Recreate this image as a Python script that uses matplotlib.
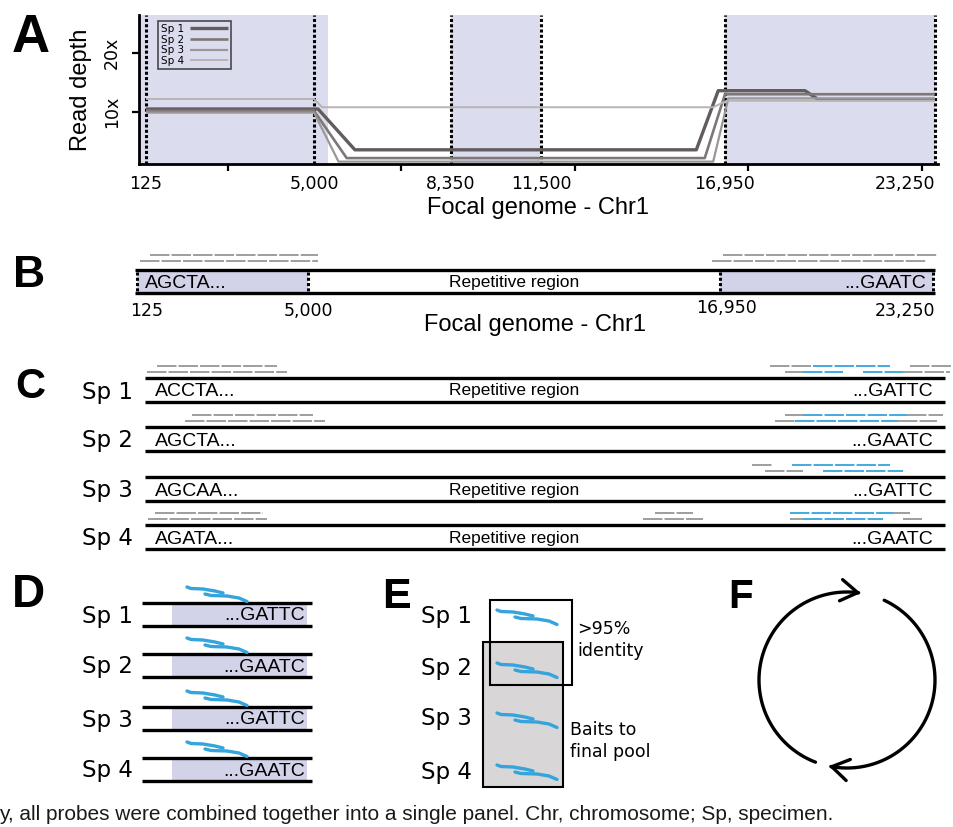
import numpy as np
import matplotlib
matplotlib.use("Agg")
import matplotlib.pyplot as plt
from matplotlib.patches import Rectangle, FancyArrowPatch
from matplotlib.path import Path

plt.rcParams.update({
    "font.family": "DejaVu Sans",
    "lines.scale_dashes": False,
    "lines.solid_capstyle": "butt",
    "lines.dash_capstyle": "butt",
})

ARIAL = "Liberation Sans"
SHADE = "#dcdcef"
SHADE_DARK = "#d2d2e9"
READ_GRAY = "#8e8e8e"
BAIT_BLUE = "#35a4dc"

# --- panel A: read depth along the focal chromosome ---
SPECIMENS = ["Sp 1", "Sp 2", "Sp 3", "Sp 4"]
DEPTH_POS = [
    [125, 5100, 6000, 16100, 16750, 19350, 19750, 23250],
    [125, 5000, 5800, 16350, 16950, 23250],
    [125, 5000, 5600, 16600, 17050, 23250],
    [125, 5000, 5200, 16600, 17000, 23250],
]
DEPTH_VAL = [
    [10.5, 10.5, 3.6, 3.6, 13.6, 13.6, 12.1, 12.1],
    [10.2, 10.2, 2.2, 2.2, 13.0, 13.0],
    [9.9, 9.9, 1.6, 1.6, 12.3, 12.3],
    [12.2, 12.2, 10.8, 10.8, 11.9, 11.9],
]
LINE_COLORS = ["#625c5c", "#7d7777", "#9c9696", "#b9b3b1"]
LINE_WIDTHS = [2.4, 1.9, 1.6, 1.4]

GENOME_MARKS = [125, 5000, 8350, 11500, 16950, 23250]
MARK_LABELS = ["125", "5,000", "8,350", "11,500", "16,950", "23,250"]
SHADED_SPANS = [(-78, 5350), (8350, 11450), (16950, 23250)]
DEPTH_TICKS = [10, 20]
DEPTH_LABELS = ["10x", "20x"]

# schematic (non-linear) placement of genome positions in panel A
A_BP = [-78, 125, 5000, 8350, 11500, 16950, 23250, 23340]
A_PX = [139, 146, 314, 451, 541, 725, 935, 938]

# --- panel B: focal genome with flanking unique regions ---
B_BP = [-200, 125, 5000, 16950, 23250, 23500]
B_PX = [126, 137, 308, 720, 933, 941]
B_MARKS = [125, 5000, 16950, 23250]
B_SPANS = [(125, 5000), (16950, 23250)]
B_READS = [(0, 500, 5290), (1, 210, 5290), (0, 17040, 23370), (1, 16720, 23070)]

# --- panel C: reads mapped onto each specimen (row, start, end, bait) ---
LEFT_SEQ = ["ACCTA...", "AGCTA...", "AGCAA...", "AGATA..."]
RIGHT_SEQ = ["...GATTC", "...GAATC", "...GATTC", "...GAATC"]
SHOW_REPEAT = [True, False, True, True]
C_READS = [
    [(0, 157, 277, 0), (1, 147, 287, 0), (0, 770, 812, 0), (0, 813, 890, 1),
     (0, 910, 952, 0), (1, 785, 803, 0), (1, 803, 843, 1), (1, 863, 903, 1),
     (1, 903, 950, 0)],
    [(0, 192, 313, 0), (1, 185, 325, 0), (0, 785, 803, 0), (0, 803, 907, 1),
     (0, 907, 943, 0), (1, 775, 795, 0), (1, 795, 898, 1), (1, 898, 937, 0)],
    [(0, 752, 772, 0), (0, 792, 890, 1), (1, 765, 803, 0), (1, 823, 903, 1)],
    [(0, 155, 263, 0), (1, 148, 267, 0), (0, 655, 693, 0), (1, 643, 703, 0),
     (0, 790, 893, 1), (0, 893, 910, 0), (1, 790, 803, 0), (1, 803, 883, 1),
     (1, 903, 922, 0)],
]

# bait glyph: two overlapping probe strokes
BAIT_STROKES = [
    ([0, 4, 16, 28, 36], [0, 1.5, 2, 4, 6]),
    ([18, 24, 40, 52, 60], [7, 8.5, 9, 11, 14.5]),
]

fig = plt.figure(figsize=(9.54, 8.27), dpi=100)
canvas = fig.add_axes([0, 0, 1, 1])
canvas.set_xlim(0, 954)
canvas.set_ylim(827, 0)
canvas.axis("off")


def panel_letter(x, y, s, size):
    canvas.text(x, y, s, fontfamily=ARIAL, fontweight="bold", fontsize=size,
                ha="left", va="baseline")


# ---------------- A ----------------
def to_px(x):
    return np.interp(x, A_BP, A_PX)


def from_px(p):
    return np.interp(p, A_PX, A_BP)


ax = fig.add_axes([139 / 954, 1 - 164 / 827, 799 / 954, 149 / 827])
ax.set_xscale("function", functions=(to_px, from_px))
ax.set_xlim(A_BP[0], A_BP[-1])
ax.set_ylim(1.2, 26.4)
ax.patch.set_alpha(0)
for x0, x1 in SHADED_SPANS:
    ax.axvspan(x0, x1, color=SHADE, lw=0, zorder=0)
for g in GENOME_MARKS:
    ax.axvline(g, color="black", ls=(0, (2.2, 1.6)), lw=2.2, zorder=3)
for name, pos, val, c, lw in zip(SPECIMENS, DEPTH_POS, DEPTH_VAL,
                                 LINE_COLORS, LINE_WIDTHS):
    ax.plot(pos, val, color=c, lw=lw, label=name, zorder=4)

leg = ax.legend(loc="upper left", bbox_to_anchor=(19 / 799, 1 - 6 / 149),
                borderaxespad=0, fontsize=7.5, markerfirst=False,
                handlelength=3.6, handletextpad=0.6, labelspacing=0.05,
                borderpad=0.3, fancybox=False, facecolor="none",
                edgecolor="#222222")
leg.get_frame().set_linewidth(1.2)

for side in ("top", "right"):
    ax.spines[side].set_visible(False)
for side in ("left", "bottom"):
    ax.spines[side].set_linewidth(2.0)
ax.set_xticks(from_px(np.linspace(228, 922, 5)))
ax.set_xticklabels([])
ax.set_xticks(GENOME_MARKS, minor=True)
ax.set_xticklabels(MARK_LABELS, minor=True)
ax.get_xticklabels(minor=True)[-1].set_ha("right")
ax.tick_params(axis="x", which="major", length=5, width=1.6)
ax.tick_params(axis="x", which="minor", length=0, pad=8, labelsize=12.5)
ax.set_yticks(DEPTH_TICKS)
ax.set_yticklabels(DEPTH_LABELS, rotation=90, va="center")
ax.tick_params(axis="y", length=5, width=1.6, pad=8, labelsize=12.5)
ax.set_xlabel("Focal genome - Chr1", fontfamily=ARIAL, fontsize=17, labelpad=3)
ax.set_ylabel("Read depth", fontfamily=ARIAL, fontsize=17, labelpad=8)
panel_letter(12, 52, "A", 38)


# ---------------- B ----------------
def bx(g):
    return np.interp(g, B_BP, B_PX)


B_TOP, B_BOT = 270, 293
B_MID = (B_TOP + B_BOT) / 2 + 1.5
for row, g0, g1 in B_READS:
    y = 255 + 5.5 * row
    canvas.plot([bx(g0), bx(g1)], [y, y], color=READ_GRAY, lw=1.2,
                ls=(0, (14, 1.5)))
for g0, g1 in B_SPANS:
    canvas.add_patch(Rectangle((bx(g0), B_TOP + 1), bx(g1) - bx(g0),
                               B_BOT - B_TOP - 2, color=SHADE_DARK, lw=0))
canvas.hlines([B_TOP, B_BOT], 135, 935, color="black", lw=2.4)
canvas.vlines([bx(g) for g in B_MARKS], B_TOP + 2, B_BOT - 2, color="black",
              lw=2.2, ls=(0, (2.2, 1.6)))
canvas.text(145, B_MID, "AGCTA...", fontfamily=ARIAL, fontsize=14,
            ha="left", va="center")
canvas.text(514, B_MID, "Repetitive region", fontfamily=ARIAL, fontsize=12.5,
            ha="center", va="center")
canvas.text(926, B_MID, "...GAATC", fontfamily=ARIAL, fontsize=14,
            ha="right", va="center")
b_label_ha = ["left", "center", "center", "right"]
b_label_dx = [-7, 0, 7, 2]
b_label_y = [311, 311, 308, 311]
for g, lab, ha, dx, ly in zip(B_MARKS, ["125", "5,000", "16,950", "23,250"],
                              b_label_ha, b_label_dx, b_label_y):
    canvas.text(bx(g) + dx, ly, lab, fontsize=12.5, ha=ha, va="center")
canvas.text(535, 325, "Focal genome - Chr1", fontfamily=ARIAL, fontsize=17,
            ha="center", va="center")
panel_letter(13, 287, "B", 32)

# ---------------- C ----------------
C_TOP = [378, 427, 477, 525]
for i, sp in enumerate(SPECIMENS):
    top = C_TOP[i]
    bot = top + 24
    mid = (top + bot) / 2 + 2
    for row, x0, x1, bait in C_READS[i]:
        y = top - 12 + 6 * row
        canvas.plot([x0, x1], [y, y], color=BAIT_BLUE if bait else READ_GRAY,
                    lw=1.3 if bait else 1.2, ls=(0, (14, 1.5)))
    canvas.hlines([top, bot], 145, 945, color="black", lw=2.4)
    canvas.text(133, mid, sp, fontsize=16.5, ha="right", va="center")
    canvas.text(155, mid, LEFT_SEQ[i], fontfamily=ARIAL, fontsize=14,
                ha="left", va="center")
    if SHOW_REPEAT[i]:
        canvas.text(514, mid - 1, "Repetitive region", fontfamily=ARIAL,
                    fontsize=12.5, ha="center", va="center")
    canvas.text(933, mid, RIGHT_SEQ[i], fontfamily=ARIAL, fontsize=14,
                ha="right", va="center")
panel_letter(15, 398, "C", 30)


def draw_bait(x, y):
    for xs, ys in BAIT_STROKES:
        canvas.plot(x + np.array(xs), y + np.array(ys), color=BAIT_BLUE,
                    lw=2.4, solid_capstyle="round", solid_joinstyle="round")


# ---------------- D ----------------
D_TOP = [603, 654, 707, 758]
for i, sp in enumerate(SPECIMENS):
    top = D_TOP[i]
    bot = top + 23
    mid = (top + bot) / 2 + 1.5
    canvas.add_patch(Rectangle((172, top + 1), 135, bot - top - 2,
                               color=SHADE_DARK, lw=0))
    canvas.hlines([top, bot], 142, 312, color="black", lw=2.4)
    canvas.text(133, mid, sp, fontsize=16.5, ha="right", va="center")
    canvas.text(305, mid, RIGHT_SEQ[i], fontfamily=ARIAL, fontsize=14,
                ha="right", va="center")
    draw_bait(187, top - 16)
panel_letter(12, 607, "D", 33)

# ---------------- E ----------------
E_MID = [617, 668, 718, 772]
E_BAIT_Y = [610, 663, 713, 765]
canvas.add_patch(Rectangle((483, 642), 80, 145, fc="#d8d6d6", ec="black",
                           lw=1.5))
canvas.add_patch(Rectangle((490, 600), 82, 85, fc="none", ec="black", lw=1.5,
                           zorder=3))
for i, sp in enumerate(SPECIMENS):
    canvas.text(472, E_MID[i], sp, fontsize=16.5, ha="right", va="center")
    draw_bait(497, E_BAIT_Y[i])
canvas.text(577, 629, ">95%", fontsize=12.5, ha="left", va="center")
canvas.text(577, 651, "identity", fontsize=12.5, ha="left", va="center")
canvas.text(570, 730, "Baits to", fontsize=12.5, ha="left", va="center")
canvas.text(570, 752, "final pool", fontsize=12.5, ha="left", va="center")
panel_letter(382, 608, "E", 31)

# ---------------- F ----------------
cx, cy, r = 847, 680, 88
for a0, a1 in [(249, 81), (65, -102)]:
    th = np.radians(np.linspace(a0, a1, 120))
    verts = np.column_stack([cx + r * np.cos(th), cy - r * np.sin(th)])
    canvas.add_patch(FancyArrowPatch(
        path=Path(verts), arrowstyle="->,head_length=0.55,head_width=0.35",
        mutation_scale=22, lw=2.4, color="black"))
panel_letter(728, 608, "F", 29)

canvas.text(-1, 814, "y, all probes were combined together into a single panel. "
            "Chr, chromosome; Sp, specimen.", fontfamily=ARIAL, fontsize=15,
            ha="left", va="center", color="#1a1a1a")

fig.savefig("out.png", dpi=100, facecolor="white")
